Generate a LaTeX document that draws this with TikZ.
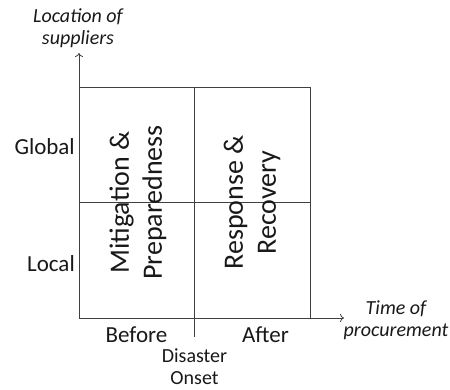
\documentclass[tikz,border=0pt]{standalone}
\usepackage{fontspec}
\setmainfont{Carlito}
\usetikzlibrary{arrows.meta}
\begin{document}
\begin{tikzpicture}[x=1pt,y=-1pt,
  axis/.style={line width=0.8pt, draw=black!75},
  arr/.style={axis, -{To[length=4pt,width=8pt]}},
  lbl/.style={font=\fontsize{23}{26}\selectfont, text=black!90, inner sep=0pt},
  ilbl/.style={font=\fontsize{20}{22}\selectfont\itshape, text=black!90, align=center, inner sep=0pt},
  quad/.style={font=\fontsize{28}{33}\selectfont, text=black!90, align=center, rotate=90, inner sep=0pt}]
\useasboundingbox (0,0) rectangle (450,390);
\coordinate (O) at (79,318);
\coordinate (ytip) at (79,53);
\coordinate (xtip) at (344,318);
\coordinate (TL) at (79,87);
\coordinate (TR) at (310,87);
\coordinate (BR) at (310,318);
\coordinate (midtop) at (194.5,87);
\coordinate (midbot) at (194.5,337);
\coordinate (midL) at (79,202.5);
\coordinate (midR) at (310,202.5);
% axes
\draw[arr] (O) -- (ytip);
\draw[arr] (O) -- (xtip);
% grid
\draw[axis] (TL) -- (TR) -- (BR);
\draw[axis] (midtop) -- (midbot);
\draw[axis] (midL) -- (midR);
% labels (base anchor = baseline of last line)
\node[ilbl, anchor=base] (ylab) at (78,45) {Location of\\suppliers};
\node[ilbl, anchor=base] (xlab) at (396,336) {Time of\\procurement};
\node[lbl, anchor=base east] (global) at (75,155) {Global};
\node[lbl, anchor=base east] (local) at (75,272) {Local};
\node[lbl, anchor=base] (before) at (136.5,342) {Before};
\node[lbl, anchor=base] (after) at (265.5,342) {After};
\node[lbl, align=center, anchor=base, font=\fontsize{20}{22}\selectfont] (onset) at (194.5,384) {Disaster\\Onset};
\node[quad] (mp) at (138,202.5) {Mitigation \&\\Preparedness};
\node[quad] (rr) at (252,202.5) {Response \&\\Recovery};
\end{tikzpicture}
\end{document}
